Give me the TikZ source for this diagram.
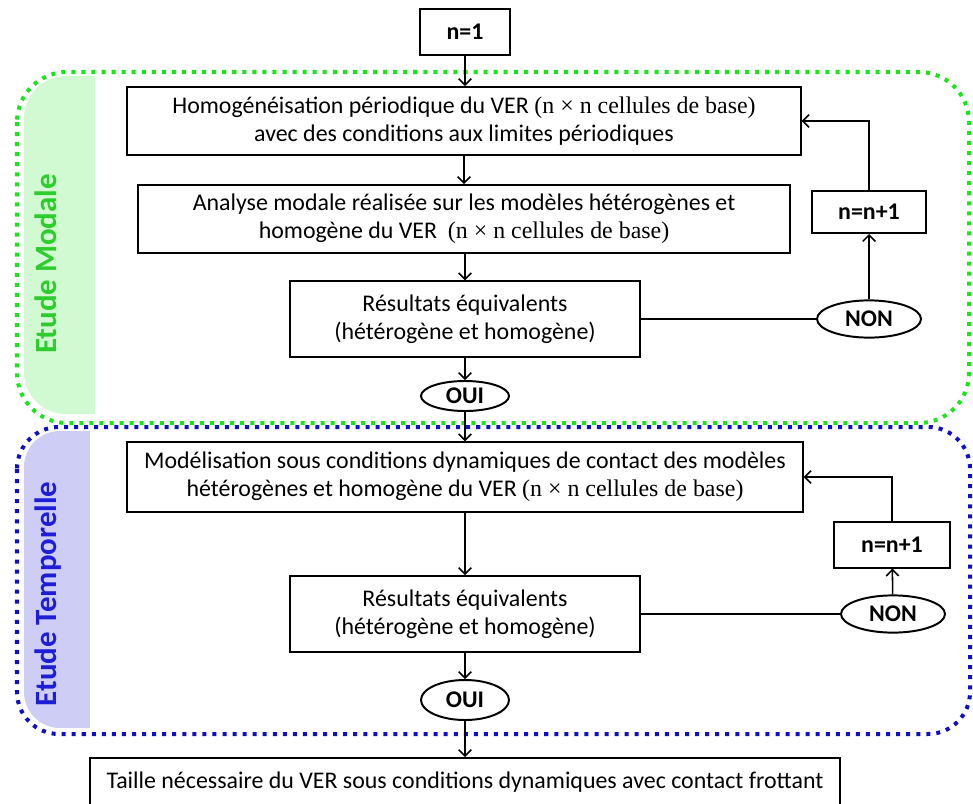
\documentclass[tikz,border=0pt]{standalone}
\usepackage[no-math]{fontspec}
\setmainfont{Carlito}
\newfontfamily\serifpart{Liberation Serif}
\usetikzlibrary{arrows.meta,positioning,shapes.geometric}
\definecolor{modalline}{RGB}{25,230,25}
\definecolor{modaltext}{RGB}{45,205,45}
\definecolor{modalfill}{RGB}{210,250,210}
\definecolor{templine}{RGB}{15,15,200}
\definecolor{temptext}{RGB}{30,30,215}
\definecolor{tempfill}{RGB}{205,205,245}
\newcommand{\cellsnn}{{\serifpart(n × n cellules de base)}}

\begin{document}
\begin{tikzpicture}[x=0.025cm,y=-0.025cm,>={Straight Barb[length=4.5pt,width=9pt]},
  box/.style={draw=black,line width=1.4pt,fill=white,align=center,font=\fontsize{17}{20}\selectfont,inner sep=2pt},
  kbox/.style={box,font=\fontsize{17}{20}\selectfont\bfseries},
  oval/.style={ellipse,draw=black,line width=1.4pt,fill=white,inner sep=0pt,font=\fontsize{17}{20}\selectfont\bfseries},
  link/.style={line width=1.1pt},
  zone/.style={line width=2.85pt,dash pattern=on 2.85pt off 4.3pt},
  zonelabel/.style={rotate=90,font=\fontsize{22}{24}\selectfont\bfseries}]
\useasboundingbox (0,0) rectangle (973,803);
% bands behind the two zones
\begin{scope}
\clip[rounded corners=1.05cm] (24,76) rectangle (962,414);
\fill[modalfill] (24,76) rectangle (95,414);
\end{scope}
\begin{scope}
\clip[rounded corners=0.9cm] (24,431) rectangle (964,728);
\fill[tempfill] (24,431) rectangle (90,728);
\end{scope}
\draw[zone,draw=modalline,rounded corners=1.25cm] (17,72) rectangle (969,423);
\draw[zone,draw=templine,rounded corners=1.05cm] (17,427) rectangle (970,734);
\node[zonelabel,text=modaltext] (lbl_modal) at (46,264) {Etude Modale};
\node[zonelabel,text=temptext] (lbl_temp) at (48,594) {Etude Temporelle};

% modal study
\node[kbox,minimum width=2.23cm,minimum height=1.15cm] (fc_n1) at (465,32) {n=1};
\node[box,minimum width=16.83cm,minimum height=1.7cm] (fc_homog) at (464,121) {Homogénéisation périodique du VER \cellsnn\\avec des conditions aux limites périodiques};
\node[box,minimum width=16.3cm,minimum height=1.7cm] (fc_modal) at (464,219) {Analyse modale réalisée sur les modèles hétérogènes et\\homogène du VER \ \cellsnn};
\node[box,minimum width=8.75cm,minimum height=1.88cm] (fc_res1) at (465,319) {Résultats équivalents\\(hétérogène et homogène)};
\node[oval,minimum width=2.2cm,minimum height=0.75cm] (fc_oui1) at (465,396) {OUI};
\node[oval,minimum width=2.6cm,minimum height=0.93cm] (fc_non1) at (869,319) {NON};
\node[kbox,minimum width=2.83cm,minimum height=1.05cm] (fc_inc1) at (869,212) {n=n+1};

% temporal study
\node[box,minimum width=16.88cm,minimum height=1.73cm] (fc_dyn) at (465,477) {Modélisation sous conditions dynamiques de contact des modèles\\hétérogènes et homogène du VER \cellsnn};
\node[box,minimum width=8.75cm,minimum height=1.9cm] (fc_res2) at (465,614) {Résultats équivalents\\(hétérogène et homogène)};
\node[oval,minimum width=2.2cm,minimum height=1.0cm] (fc_oui2) at (465,700) {OUI};
\node[oval,minimum width=2.6cm,minimum height=0.93cm] (fc_non2) at (893,614) {NON};
\node[kbox,minimum width=2.88cm,minimum height=1.13cm] (fc_inc2) at (892,545) {n=n+1};

\node[box,minimum width=18.75cm,minimum height=1.2cm] (fc_end) at (465,782) {Taille nécessaire du VER sous conditions dynamiques avec contact frottant};

\draw[link,->] (fc_n1) -- (fc_n1 |- fc_homog.north);
\draw[link,->] (fc_homog) -- (fc_homog |- fc_modal.north);
\draw[link,->] (fc_modal.south -| fc_res1) -- (fc_res1);
\draw[link,->] (fc_res1) -- (fc_oui1);
\draw[link] (fc_res1) -- (fc_non1);
\draw[link,->] (fc_non1) -- (fc_inc1);
\draw[link,->] (fc_inc1) |- (fc_homog);
\draw[link,->] (fc_oui1) -- (fc_oui1 |- fc_dyn.north);
\draw[link,->] (fc_dyn.south -| fc_res2) -- (fc_res2);
\draw[link,->] (fc_res2) -- (fc_oui2);
\draw[link] (fc_res2) -- (fc_non2);
\draw[link,->] (fc_non2) -- (fc_inc2);
\draw[link,->] (fc_inc2) |- (fc_dyn);
\draw[link,->] (fc_oui2) -- (fc_end);
\end{tikzpicture}
\end{document}
